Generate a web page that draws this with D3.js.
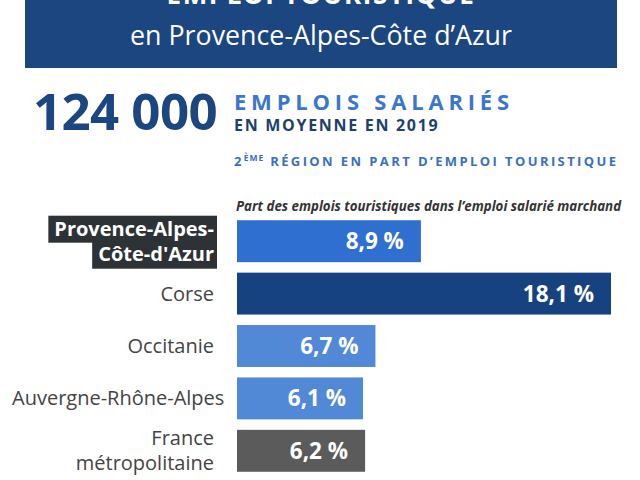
<!DOCTYPE html>
<html><head><meta charset="utf-8">
<script src="https://cdn.jsdelivr.net/npm/d3@7"></script>
<style>body{margin:0;background:#fff;}svg{display:block;font-family:"Open Sans",sans-serif;}</style>
</head><body>
<svg id="c" width="640" height="480"></svg>
<script>
const categories = ["Provence-Alpes-Côte-d'Azur", "Corse", "Occitanie", "Auvergne-Rhône-Alpes", "France métropolitaine"];
const labelLines = [["Provence-Alpes-", "Côte-d'Azur"], ["Corse"], ["Occitanie"], ["Auvergne-Rhône-Alpes"], ["France", "métropolitaine"]];
const values = [8.9, 18.1, 6.7, 6.1, 6.2];
const valueLabels = ["8,9 %", "18,1 %", "6,7 %", "6,1 %", "6,2 %"];
const colors = ["#2e6fd0", "#174280", "#5189d6", "#5189d6", "#5b5b5b"];

const svg = d3.select("#c");

// header
svg.append("rect").attr("x", 25).attr("y", -10).attr("width", 592).attr("height", 78).attr("fill", "#1b467f");
svg.append("text").attr("x", 321).attr("y", 4).attr("text-anchor", "middle")
  .attr("fill", "#fff").attr("font-weight", 700).attr("font-size", 26).attr("letter-spacing", 1.6)
  .text("EMPLOI TOURISTIQUE");
svg.append("text").attr("x", 321).attr("y", 45).attr("text-anchor", "middle")
  .attr("fill", "#fff").attr("font-weight", 400).attr("font-size", 26.8)
  .text("en Provence-Alpes-Côte d’Azur");

svg.append("text").attr("x", 33).attr("y", 130).attr("fill", "#1b467f")
  .attr("font-weight", 700).attr("font-size", 51).attr("letter-spacing", -0.6).text("124 000");
svg.append("text").attr("x", 234).attr("y", 110).attr("fill", "#3a76cf")
  .attr("font-weight", 700).attr("font-size", 22).attr("letter-spacing", 4.8).text("EMPLOIS SALARIÉS");
svg.append("text").attr("x", 234).attr("y", 131).attr("fill", "#1d3f6e")
  .attr("font-weight", 700).attr("font-size", 16).attr("letter-spacing", 1.7).text("EN MOYENNE EN 2019");
const t2 = svg.append("text").attr("x", 234).attr("y", 166).attr("fill", "#3a6fc4")
  .attr("font-weight", 700).attr("font-size", 13).attr("letter-spacing", 2.4);
t2.append("tspan").text("2");
t2.append("tspan").attr("font-size", 8.5).attr("dy", -5).attr("letter-spacing", 1).text("ÈME");
t2.append("tspan").attr("dy", 5).text(" RÉGION EN PART D’EMPLOI TOURISTIQUE");

svg.append("text").attr("x", 236).attr("y", 211).attr("fill", "#333")
  .attr("font-weight", 700).attr("font-style", "italic").attr("font-size", 13.3)
  .text("Part des emplois touristiques dans l’emploi salarié marchand");

const y = d3.scaleBand().domain(categories).range([215, 477]).paddingInner(0.2).paddingOuter(0.1);
const x = d3.scaleLinear().domain([0, 18.1]).range([237, 611]);

svg.selectAll("rect.bar").data(categories).join("rect").attr("class", "bar")
  .attr("x", x(0)).attr("y", d => y(d)).attr("height", y.bandwidth())
  .attr("width", (d, i) => x(values[i]) - x(0)).attr("fill", (d, i) => colors[i]);

svg.selectAll("text.val").data(categories).join("text").attr("class", "val")
  .attr("x", (d, i) => x(values[i]) - 17).attr("y", d => y(d) + y.bandwidth() / 2 + 8)
  .attr("text-anchor", "end").attr("fill", "#fff").attr("font-weight", 700).attr("font-size", 22.5)
  .text((d, i) => valueLabels[i]);

// category labels
const lx = 214, lh = 25, minX = 12;
categories.forEach((c, i) => {
  const lines = labelLines[i];
  const cy = y(c) + y.bandwidth() / 2;
  const first = i === 0;
  const g = svg.append("g");
  const texts = lines.map((l, j) => {
    const base = cy + 7 + (j - (lines.length - 1) / 2) * lh;
    return g.append("text").attr("x", lx).attr("y", base).attr("text-anchor", "end")
      .attr("fill", first ? "#fff" : "#444").attr("font-weight", first ? 700 : 400)
      .attr("font-size", 20).text(l);
  });
  texts.forEach(t => {
    const b = t.node().getBBox();
    if (b.x < minX) t.attr("x", lx + (minX - b.x));
  });
  if (first) {
    const b0 = texts[0].node().getBBox(), b1 = texts[1].node().getBBox();
    const top = b0.y + 1, mid = (b0.y + b0.height + b1.y) / 2 + 1, bot = b1.y + b1.height + 2;
    const right = lx + 3;
    g.insert("rect", "text").attr("x", b0.x - 6).attr("y", top).attr("width", right - (b0.x - 6))
      .attr("height", mid - top + 1).attr("fill", "#2d3237");
    g.insert("rect", "text").attr("x", b1.x - 6).attr("y", mid).attr("width", right - (b1.x - 6))
      .attr("height", bot - mid).attr("fill", "#2d3237");
  }
});
</script>
</body></html>
